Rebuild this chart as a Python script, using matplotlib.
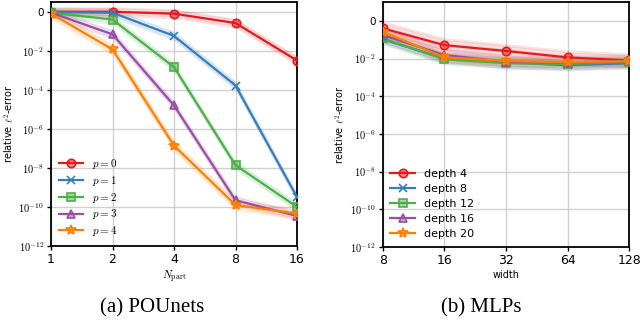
import matplotlib
matplotlib.use("Agg")
import matplotlib.pyplot as plt
import numpy as np

plt.rcParams["mathtext.fontset"] = "cm"

COLORS = ["#e41a1c", "#377eb8", "#4daf4a", "#984ea3", "#ff7f00"]
MARKERS = ["o", "x", "s", "^", "*"]

# POUnets: log10 of relative error vs N_part
N_PART = [1, 2, 4, 8, 16]
POU_LABELS = ["$p=0$", "$p=1$", "$p=2$", "$p=3$", "$p=4$"]
POU_LOG_ERR = [
    [0.0, 0.0, -0.1, -0.58, -2.5],
    [-0.02, -0.05, -1.24, -3.78, -9.5],
    [-0.05, -0.4, -2.84, -7.86, -10.0],
    [-0.05, -1.16, -4.8, -9.66, -10.46],
    [-0.1, -1.93, -6.86, -9.9, -10.34],
]
POU_SPREAD = [0.25, 0.25, 0.25, 0.25, 0.3]

# MLPs: log10 of relative error vs width
WIDTH = [8, 16, 32, 64, 128]
MLP_LABELS = ["depth 4", "depth 8", "depth 12", "depth 16", "depth 20"]
MLP_LOG_ERR = [
    [-0.4, -1.29, -1.6, -1.94, -2.1],
    [-0.98, -1.99, -2.2, -2.36, -2.25],
    [-0.93, -2.04, -2.25, -2.29, -2.17],
    [-0.76, -1.81, -2.17, -2.22, -2.14],
    [-0.58, -1.94, -2.13, -2.2, -2.14],
]
MLP_SPREAD = [0.4, 0.3, 0.3, 0.4, 0.3]

Y_TICKS = [1, 1e-2, 1e-4, 1e-6, 1e-8, 1e-10, 1e-12]
Y_TICK_LABELS = ["0", "$10^{-2}$", "$10^{-4}$", "$10^{-6}$", "$10^{-8}$",
                 "$10^{-10}$", "$10^{-12}$"]


def draw_panel(ax, x, log_err, spread, labels, ytop, xlabel, leg_kw):
    for i, ys in enumerate(log_err):
        ys = np.array(ys)
        c = COLORS[i]
        ax.fill_between(x, 10 ** (ys - spread[i]), 10 ** (ys + spread[i]),
                        color=c, alpha=0.13, lw=0, zorder=2)
        for off in (-0.6, -0.2, 0.2, 0.6):
            ax.plot(x, 10 ** (ys + off * spread[i]), color=c, lw=0.6,
                    alpha=0.15, zorder=2)
        ax.plot(x, 10 ** ys, color=c, lw=1.6, marker=MARKERS[i],
                ms=7 if MARKERS[i] == "*" else 6,
                mfc=matplotlib.colors.to_rgba(c, 0.5), mec=c, mew=1.2,
                label=labels[i], zorder=3)
    ax.set_xscale("log", base=2)
    ax.set_yscale("log")
    ax.set_xlim(x[0], x[-1])
    ax.set_ylim(1e-12, ytop)
    ax.set_xticks(x)
    ax.set_xticklabels([str(v) for v in x], fontsize=9)
    ax.minorticks_off()
    ax.set_yticks(Y_TICKS)
    ax.set_yticklabels(Y_TICK_LABELS, fontsize=7.5)
    ax.grid(True, color="#d0d0d0", lw=1.0, zorder=0)
    for s in ax.spines.values():
        s.set_linewidth(1.3)
    ax.tick_params(length=3, width=1, pad=2)
    ax.set_ylabel(r"relative $\ell^2$-error", fontsize=7, family="DejaVu Sans",
                  labelpad=2)
    ax.set_xlabel(xlabel, fontsize=8, labelpad=2)
    ax.legend(loc="lower left", frameon=False, handlelength=2.2,
              borderaxespad=0.3, **leg_kw)


fig = plt.figure(figsize=(6.4, 3.26), dpi=100)
ax1 = fig.add_axes([0.0797, 0.2454, 0.3844, 0.7486])
ax2 = fig.add_axes([0.598, 0.242, 0.385, 0.752])

draw_panel(ax1, N_PART, POU_LOG_ERR, POU_SPREAD, POU_LABELS, 10 ** 0.5,
           r"$N_{\mathrm{part}}$",
           dict(fontsize=8, labelspacing=0.25, bbox_to_anchor=(0.0, 0.0)))
draw_panel(ax2, WIDTH, MLP_LOG_ERR, MLP_SPREAD, MLP_LABELS, 10 ** 1.0, "width",
           dict(fontsize=8, labelspacing=0.45, bbox_to_anchor=(0.0, 0.0)))
ax2.xaxis.label.set_family("DejaVu Sans")
ax2.xaxis.label.set_size(7)
for t in ax2.get_legend().get_texts():
    t.set_family("DejaVu Sans")

fig.text(0.237, 0.055, "(a) POUnets", ha="center", va="center", fontsize=15,
         family="Liberation Serif")
fig.text(0.752, 0.055, "(b) MLPs", ha="center", va="center", fontsize=15,
         family="Liberation Serif")

fig.savefig("out.png", dpi=100)
